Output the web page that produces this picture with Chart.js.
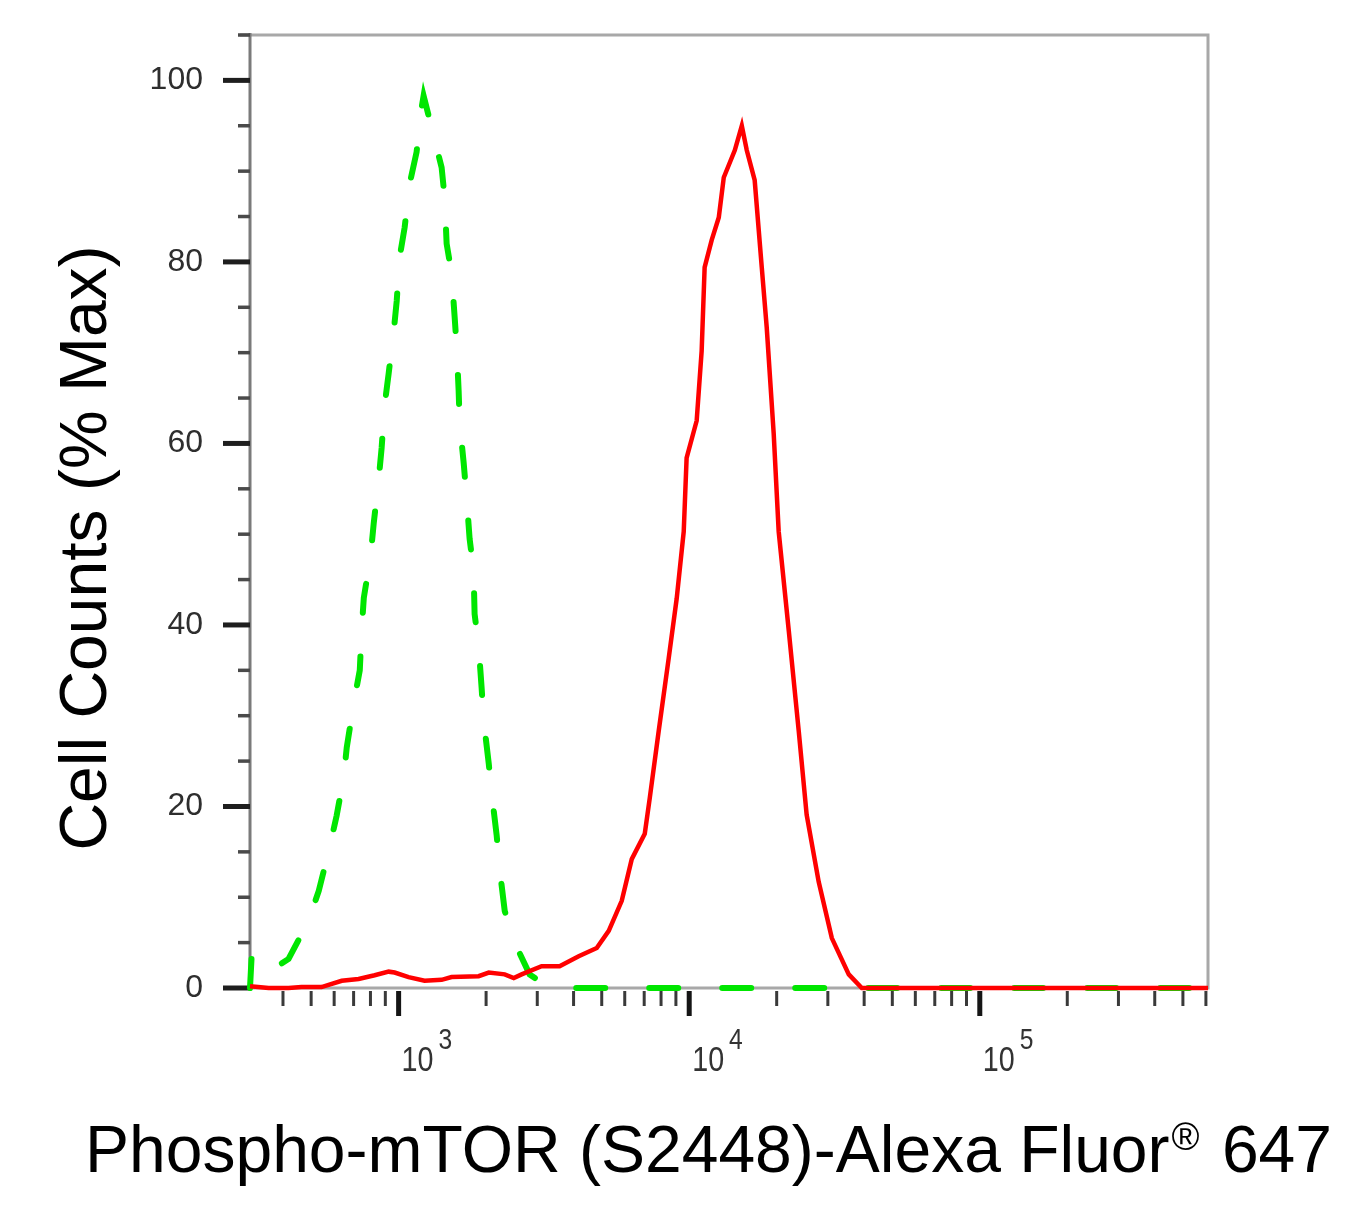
<!DOCTYPE html>
<html>
<head>
<meta charset="utf-8">
<title>Phospho-mTOR (S2448) flow histogram</title>
<script src="https://cdn.jsdelivr.net/npm/chart.js@4.4.1/dist/chart.umd.min.js"></script>
<style>
  html, body { margin: 0; padding: 0; background: #fff; }
  #wrap { position: relative; width: 1362px; height: 1208px; }
</style>
</head>
<body>
<div id="wrap"><canvas id="histChart"></canvas></div>
<script>
/* values: x = fluorescence, y = % of max */
const greenX = [308, 312, 351, 418, 490, 531, 575, 612, 647, 663, 700, 735, 746, 759, 801, 821, 853, 874, 895, 924,
  961, 985, 1008, 1049, 1091, 1153, 1200, 1219, 1299, 1406, 1440, 1463, 1521, 1559, 1584, 1609, 1622, 1675, 1714, 1755,
  1811, 1826, 1885, 1931, 1963, 2043, 2091, 2175, 2227, 2318, 2508, 2824, 3230, 3640, 610000];
const greenY = [0, 3.5, 1.6, 3.2, 7.4, 10.7, 15.1, 19.0, 23.2, 26.5, 31.3, 35.0, 39.4, 43.0, 47.6, 51.2, 55.9, 59.5, 64.2, 67.7,
  72.2, 75.7, 80.5, 83.8, 88.6, 92.1, 97.0, 98.3, 94.8, 90.4, 87.1, 82.0, 78.8, 73.9, 70.6, 65.8, 62.3, 57.8, 54.0, 49.5,
  46.0, 41.2, 37.7, 33.0, 29.4, 24.7, 21.4, 16.8, 13.1, 8.5, 5.0, 1.5, 0.2, 0, 0];

const redX = [308, 357, 418, 463, 543, 637, 728, 827, 924, 969, 1082, 1228, 1406, 1521, 1885, 2043, 2318, 2490, 2650, 3105,
  3581, 4166, 4806, 5285, 5859, 6343, 7031, 7314, 7852, 8498, 9055, 9575, 9797, 10610, 11037, 11300, 11950, 12640, 13150, 14350,
  15170, 15780, 16800, 17770, 18480, 19530, 20320, 22020, 23820, 25360, 27900, 30960, 35410, 39260, 610000];
const redY = [0.2, 0, 0, 0.1, 0.1, 0.8, 1.0, 1.4, 1.8, 1.7, 1.2, 0.8, 0.9, 1.2, 1.3, 1.7, 1.5, 1.1, 1.5, 2.4,
  2.4, 3.5, 4.4, 6.3, 9.6, 14.2, 17.0, 20.9, 28.3, 36.3, 42.9, 50.3, 58.4, 62.5, 70.2, 79.4, 82.4, 84.9, 89.3, 92.3,
  95.0, 92.3, 89.0, 79.4, 72.8, 61.1, 50.3, 39.3, 28.3, 19.1, 11.7, 5.5, 1.5, 0, 0];

const yTickValues = [0, 20, 40, 60, 80, 100];
const yMinorTicks = [5, 10, 15, 25, 30, 35, 45, 50, 55, 65, 70, 75, 85, 90, 95, 105];
const xMajorTicks = [1e3, 1e4, 1e5];
const xMajorExp = ['3', '4', '5'];
const xMinorTicks = [400, 500, 600, 700, 800, 900,
  2000, 3000, 4000, 5000, 6000, 7000, 8000, 9000,
  20000, 30000, 40000, 50000, 60000, 70000, 80000, 90000,
  200000, 300000, 400000, 500000, 600000];

const yTitle = 'Cell Counts (% Max)';
const xTitleMain = 'Phospho-mTOR (S2448)-Alexa Fluor';
const xTitleMark = '\u00AE';
const xTitleEnd = ' 647';

const FONT = '"Liberation Sans", Arial, Helvetica, sans-serif';

// frame, tick marks and the text Chart.js can't do (superscripts, offset titles)
const frameAndTicks = {
  id: 'frameAndTicks',
  beforeDatasetsDraw(chart) {
    const { ctx, chartArea: a, scales: { x, y } } = chart;
    ctx.save();
    ctx.lineCap = 'butt';

    ctx.lineWidth = 3;
    ctx.strokeStyle = '#a8a8a8';
    ctx.beginPath();
    ctx.moveTo(a.left - 10, a.top);
    ctx.lineTo(a.right, a.top);
    ctx.lineTo(a.right, a.bottom);
    ctx.lineTo(a.left, a.bottom);
    ctx.stroke();

    ctx.strokeStyle = '#7a7a7a';
    ctx.beginPath();
    ctx.moveTo(a.left, a.top - 2);
    ctx.lineTo(a.left, a.bottom);
    ctx.stroke();

    // y ticks
    ctx.strokeStyle = '#4a4a4a';
    ctx.lineWidth = 3.5;
    yMinorTicks.forEach(v => {
      const py = y.getPixelForValue(v);
      ctx.beginPath(); ctx.moveTo(a.left - 12, py); ctx.lineTo(a.left, py); ctx.stroke();
    });
    ctx.strokeStyle = '#1e1e1e';
    ctx.lineWidth = 5;
    yTickValues.forEach(v => {
      const py = y.getPixelForValue(v);
      ctx.beginPath(); ctx.moveTo(a.left - 27, py); ctx.lineTo(a.left, py); ctx.stroke();
    });

    // x ticks
    ctx.strokeStyle = '#3a3a3a';
    ctx.lineWidth = 3;
    xMinorTicks.forEach(v => {
      const px = x.getPixelForValue(v);
      ctx.beginPath(); ctx.moveTo(px, a.bottom + 3); ctx.lineTo(px, a.bottom + 18); ctx.stroke();
    });
    ctx.strokeStyle = '#151515';
    ctx.lineWidth = 5;
    xMajorTicks.forEach(v => {
      const px = x.getPixelForValue(v);
      ctx.beginPath(); ctx.moveTo(px, a.bottom + 3); ctx.lineTo(px, a.bottom + 28); ctx.stroke();
    });
    ctx.restore();
  },
  afterDraw(chart) {
    const { ctx, chartArea: a, scales: { x } } = chart;
    ctx.save();

    // x tick labels 10^n, slightly condensed like the original
    ctx.fillStyle = '#333';
    ctx.textAlign = 'left';
    ctx.textBaseline = 'alphabetic';
    xMajorTicks.forEach((v, i) => {
      const px = x.getPixelForValue(v) + 3;
      ctx.save();
      ctx.translate(px, a.bottom + 83);
      ctx.scale(0.82, 1);
      ctx.font = `35px ${FONT}`;
      ctx.fillText('10', 0, 0);
      const w = ctx.measureText('10').width;
      ctx.font = `30px ${FONT}`;
      ctx.fillText(xMajorExp[i], w + 6, -22);
      ctx.restore();
    });

    // axis titles
    ctx.fillStyle = '#000';
    ctx.font = `66px ${FONT}`;
    ctx.save();
    ctx.translate(106, 548);
    ctx.rotate(-Math.PI / 2);
    ctx.textAlign = 'center';
    ctx.fillText(yTitle, 0, 0);
    ctx.restore();

    let tx = 85;
    const ty = 1172;
    ctx.font = `66px ${FONT}`;
    ctx.fillText(xTitleMain, tx, ty);
    tx += ctx.measureText(xTitleMain).width + 2;
    ctx.font = `38px ${FONT}`;
    ctx.fillText(xTitleMark, tx, ty - 22);
    tx += ctx.measureText(xTitleMark).width + 4;
    ctx.font = `66px ${FONT}`;
    ctx.fillText(xTitleEnd, tx, ty);
    ctx.restore();
  }
};

new Chart(document.getElementById('histChart'), {
  type: 'line',
  data: {
    datasets: [
      {
        label: 'Phospho-mTOR (S2448)',
        data: redX.map((v, i) => ({ x: v, y: redY[i] })),
        borderColor: '#ff0000',
        borderWidth: 4.5,
        pointRadius: 0,
        tension: 0,
        clip: 8
      },
      {
        label: 'Isotype control',
        data: greenX.map((v, i) => ({ x: v, y: greenY[i] })),
        borderColor: '#00e600',
        borderWidth: 6,
        borderDash: [29, 44],
        borderCapStyle: 'round',
        pointRadius: 0,
        tension: 0,
        clip: 8
      }
    ]
  },
  options: {
    responsive: true,
    maintainAspectRatio: false,
    animation: false,
    devicePixelRatio: 1,
    layout: { padding: { left: 0, right: 154, top: 35, bottom: 0 } },
    plugins: { legend: { display: false }, tooltip: { enabled: false } },
    scales: {
      x: {
        type: 'logarithmic',
        min: 308,
        max: 610000,
        grid: { display: false, drawTicks: false },
        border: { display: false },
        ticks: { display: false },
        afterFit(s) { s.height = 220; s.paddingLeft = 0; s.paddingRight = 0; }
      },
      y: {
        min: 0,
        max: 105,
        grid: { display: false, drawTicks: false },
        border: { display: false },
        afterBuildTicks(s) { s.ticks = yTickValues.map(v => ({ value: v })); },
        ticks: {
          padding: 47,
          color: '#2e2e2e',
          font: { family: FONT, size: 32 },
          callback: v => String(v)
        },
        afterFit(s) { s.width = 250; s.paddingTop = 0; s.paddingBottom = 0; }
      }
    }
  },
  plugins: [frameAndTicks]
});
</script>
</body>
</html>
